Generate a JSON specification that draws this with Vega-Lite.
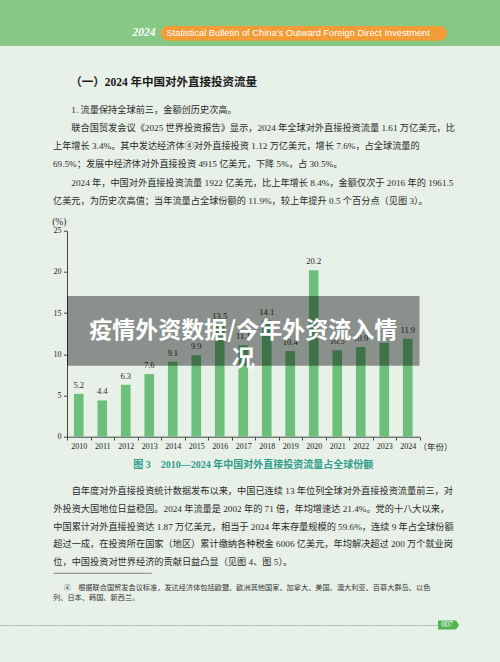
{
  "$schema": "https://vega.github.io/schema/vega-lite/v6.json",
  "background": "#e7f1e8",
  "padding": {"left": 0, "top": 0, "right": 0, "bottom": 32},
  "bounds": "flush",
  "spacing": 184.7,
  "config": {"view": {"stroke": null}},
  "vconcat": [
    {
      "width": 500,
      "height": 46,
      "view": {"fill": "#87c884", "stroke": null},
      "data": {"values": [{"year": "2024", "name": "Statistical Bulletin of China’s Outward Foreign Direct Investment"}]},
      "title": {
        "text": "\u200b\u2003\u2002（一）2024 年中国对外直接投资流量",
        "subtitle": [
          "\u200b\u3000\u30001. 流量保持全球前三，金额创历史次高。",
          "\u200b\u3000\u3000联合国贸发会议《2025 世界投资报告》显示，2024 年全球对外直接投资流量 1.61 万亿美元，比",
          "上年增长 3.4%。其中发达经济体④对外直接投资 1.12 万亿美元，增长 7.6%，占全球流量的",
          "69.5%；发展中经济体对外直接投资 4915 亿美元，下降 5%，占 30.5%。",
          "\u200b\u3000\u30002024 年，中国对外直接投资流量 1922 亿美元，比上年增长 8.4%，金额仅次于 2016 年的 1961.5",
          "亿美元，为历史次高值；当年流量占全球份额的 11.9%，较上年提升 0.5 个百分点（见图 3）。"
        ],
        "orient": "bottom",
        "anchor": "start",
        "frame": "group",
        "baseline": "top",
        "offset": 31,
        "dx": 53,
        "font": "Liberation Serif, Noto Sans CJK SC",
        "fontSize": 11.5,
        "fontWeight": "bold",
        "color": "#1a1a1a",
        "subtitleFont": "Liberation Serif, Noto Sans CJK SC",
        "subtitleFontSize": 9.2,
        "subtitleColor": "#2a2a2a",
        "subtitleLineHeight": 18.2,
        "subtitlePadding": 17.4
      },
      "layer": [
        {
          "mark": {"type": "rect", "fill": "#f39b36", "cornerRadius": 7},
          "encoding": {
            "x": {"datum": 0.322, "type": "quantitative", "scale": {"domain": [0, 1]}, "axis": null},
            "x2": {"datum": 0.8934},
            "y": {"datum": 0.4348, "type": "quantitative", "scale": {"domain": [0, 1]}, "axis": null},
            "y2": {"datum": 0.1152}
          }
        },
        {
          "mark": {"type": "text", "font": "Liberation Serif", "fontStyle": "italic", "fontWeight": "bold", "fontSize": 11.5, "color": "#ffffff", "align": "center", "baseline": "middle"},
          "encoding": {
            "x": {"datum": 0.288, "type": "quantitative"},
            "y": {"datum": 0.2826, "type": "quantitative"},
            "text": {"field": "year"}
          }
        },
        {
          "mark": {"type": "text", "font": "Liberation Sans", "fontSize": 9.3, "color": "#ffffff", "align": "left", "baseline": "middle"},
          "encoding": {
            "x": {"datum": 0.333, "type": "quantitative"},
            "y": {"datum": 0.2826, "type": "quantitative"},
            "text": {"field": "name"}
          }
        }
      ]
    },
    {
      "hconcat": [
        {
          "width": 66.7,
          "height": 206,
          "data": {"values": []},
          "mark": "point",
          "encoding": {}
        },
        {
          "width": 352.5,
          "height": 206,
          "title": {
            "text": "\u200b\u3000\u3000\u3000\u3000\u3000\u3000\u3000\u3000图 3\u30002010—2024 年中国对外直接投资流量占全球份额",
            "subtitle": [
              "\u200b\u3000\u3000自年度对外直接投资统计数据发布以来，中国已连续 13 年位列全球对外直接投资流量前三，对",
              "外投资大国地位日益稳固。2024 年流量是 2002 年的 71 倍，年均增速达 21.4%。党的十八大以来，",
              "中国累计对外直接投资达 1.87 万亿美元，相当于 2024 年末存量规模的 59.6%，连续 9 年占全球份额",
              "超过一成，在投资所在国家（地区）累计缴纳各种税金 6006 亿美元，年均解决超过 200 万个就业岗",
              "位，中国投资对世界经济的贡献日益凸显（见图 4、图 5）。"
            ],
            "orient": "bottom",
            "anchor": "start",
            "frame": "group",
            "baseline": "top",
            "offset": 9,
            "dx": -13.7,
            "font": "Liberation Serif, Noto Sans CJK SC",
            "fontSize": 10,
            "fontWeight": "bold",
            "color": "#2f9d8b",
            "subtitleFont": "Liberation Serif, Noto Sans CJK SC",
            "subtitleFontSize": 9.2,
            "subtitleColor": "#2a2a2a",
            "subtitleLineHeight": 17.75,
            "subtitlePadding": 17.7
          },
          "layer": [
            {
              "data": {"values": [
                {"year": "2010", "share": 5.2},
                {"year": "2011", "share": 4.4},
                {"year": "2012", "share": 6.3},
                {"year": "2013", "share": 7.6},
                {"year": "2014", "share": 9.1},
                {"year": "2015", "share": 9.9},
                {"year": "2016", "share": 13.5},
                {"year": "2017", "share": 11.1},
                {"year": "2018", "share": 14.1},
                {"year": "2019", "share": 10.4},
                {"year": "2020", "share": 20.2},
                {"year": "2021", "share": 10.5},
                {"year": "2022", "share": 10.9},
                {"year": "2023", "share": 11.4},
                {"year": "2024", "share": 11.9}
              ], "name": "shares"},
              "layer": [
                {
                  "mark": {"type": "bar", "color": "#6bbf7b", "width": {"band": 0.41}},
                  "encoding": {
                    "x": {
                      "field": "year", "type": "ordinal",
                      "scale": {"paddingInner": 0, "paddingOuter": 0},
                      "axis": {
                        "title": "（年份）", "titleX": 351, "titleY": 9.3, "titleAlign": "left", "titleBaseline": "middle", "titleAngle": 0,
                        "titleFont": "Liberation Serif, Noto Sans CJK SC", "titleFontSize": 8.5, "titleFontWeight": "normal", "titleColor": "#2a2a2a",
                        "labelAngle": 0, "labelFont": "Liberation Serif", "labelFontSize": 8, "labelColor": "#222222", "labelPadding": 2,
                        "tickSize": 3.3, "tickBand": "extent", "domainColor": "#444444", "tickColor": "#444444", "domainWidth": 1, "tickWidth": 1
                      }
                    },
                    "y": {
                      "field": "share", "type": "quantitative",
                      "scale": {"domain": [0, 25], "nice": false},
                      "axis": {
                        "title": "(%)", "titleAngle": 0, "titleX": -8.2, "titleY": -9.7, "titleAlign": "center", "titleBaseline": "middle",
                        "titleFont": "Liberation Serif", "titleFontSize": 9.5, "titleFontWeight": "normal", "titleColor": "#2a2a2a",
                        "values": [0, 5, 10, 15, 20, 25], "grid": false,
                        "labelFont": "Liberation Serif", "labelFontSize": 8, "labelColor": "#222222", "labelPadding": 2.5,
                        "tickSize": 3.5, "domainColor": "#444444", "tickColor": "#444444", "domainWidth": 1, "tickWidth": 1
                      }
                    }
                  }
                },
                {
                  "mark": {"type": "text", "font": "Liberation Serif", "fontSize": 8.5, "color": "#2a2a2a", "baseline": "alphabetic", "dy": -6},
                  "encoding": {
                    "x": {"field": "year", "type": "ordinal"},
                    "y": {"field": "share", "type": "quantitative"},
                    "text": {"field": "share", "type": "quantitative", "format": ".1f"}
                  }
                }
              ]
            },
            {
              "data": {"values": [{"headline": "疫情外资数据/今年外资流入情况"}]},
              "layer": [
                {
                  "mark": {"type": "rect", "fill": "#000000", "fillOpacity": 0.4, "strokeWidth": 0},
                  "encoding": {
                    "y": {"datum": 17.07, "type": "quantitative"},
                    "y2": {"datum": 8.62}
                  }
                },
                {
                  "mark": {"type": "text", "font": "Noto Sans CJK SC", "fontWeight": "bold", "fontSize": 23, "lineHeight": 28.3, "color": "#ffffff", "align": "center", "baseline": "middle"},
                  "encoding": {
                    "y": {"datum": 12.85, "type": "quantitative"},
                    "text": {"value": ["疫情外资数据/今年外资流入情", "况"]}
                  }
                }
              ]
            }
          ]
        }
      ],
      "spacing": 0,
      "bounds": "flush"
    },
    {
      "width": 438,
      "height": 209.6,
      "data": {"values": [{"page": "007"}]},
      "title": {
        "text": [
          "\u200b\u3000\u2002④\u3000根据联合国贸发会议标准，发达经济体包括欧盟、欧洲其他国家、加拿大、美国、澳大利亚、百慕大群岛、以色",
          "列、日本、韩国、新西兰。"
        ],
        "orient": "bottom",
        "anchor": "start",
        "frame": "group",
        "baseline": "top",
        "offset": -45.9,
        "dx": 53,
        "font": "Noto Sans CJK SC",
        "fontSize": 7.2,
        "fontWeight": "normal",
        "color": "#333333",
        "lineHeight": 10.6
      },
      "layer": [
        {
          "mark": {"type": "rule", "color": "#6a6a6a", "strokeWidth": 0.8},
          "encoding": {
            "x": {"datum": 0.1217, "type": "quantitative", "scale": {"domain": [0, 1]},
                  "axis": {"orient": "bottom", "domain": true, "domainColor": "#9aa59b", "domainDash": [2, 1], "domainWidth": 1, "ticks": false, "labels": false, "grid": false, "title": null}},
            "x2": {"datum": 0.3463},
            "y": {"datum": 0.2467, "type": "quantitative", "scale": {"domain": [0, 1]}, "axis": null}
          }
        },
        {
          "mark": {"type": "point", "shape": "M0,-0.21 L0.86,-0.21 L1,0 L0.86,0.21 L0,0.21 Z", "size": 1764, "filled": true, "color": "#53b453", "opacity": 1, "strokeWidth": 0},
          "encoding": {
            "x": {"datum": 1, "type": "quantitative"},
            "y": {"datum": 0, "type": "quantitative"}
          }
        },
        {
          "mark": {"type": "text", "font": "Liberation Serif", "fontSize": 7.5, "color": "#ffffff", "align": "left", "baseline": "middle", "dx": 3.5},
          "encoding": {
            "x": {"datum": 1, "type": "quantitative"},
            "y": {"datum": 0, "type": "quantitative"},
            "text": {"field": "page"}
          }
        }
      ]
    }
  ]
}
